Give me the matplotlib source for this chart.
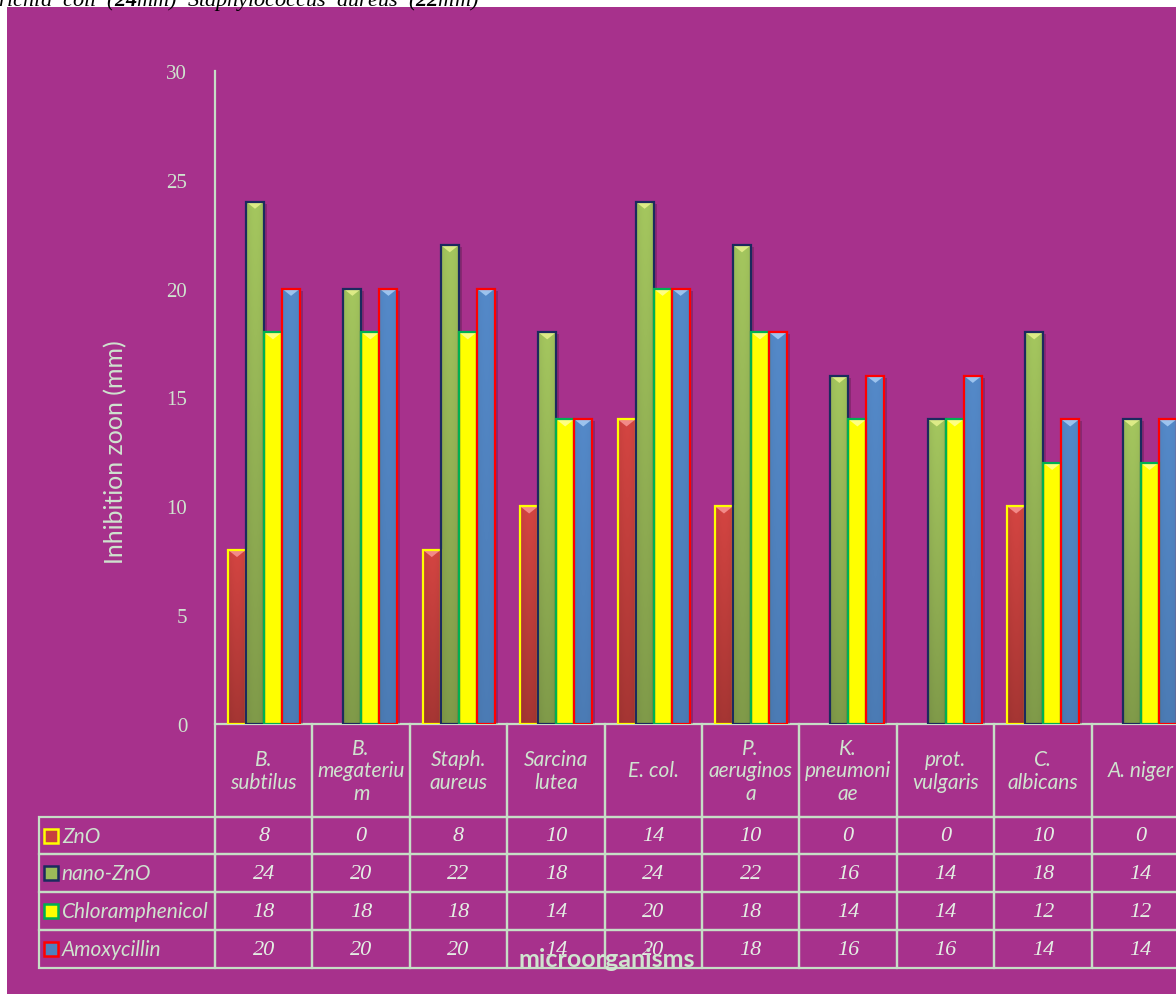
import matplotlib
matplotlib.use("Agg")
import matplotlib.pyplot as plt
import numpy as np
from matplotlib.patches import Rectangle, Polygon
from matplotlib.colors import to_rgb
from matplotlib.table import Table

# data
categories = ["B.\nsubtilus", "B.\nmegateriu\nm", "Staph.\naureus", "Sarcina\nlutea", "E. col.",
              "P.\naeruginos\na", "K.\npneumoni\nae", "prot.\nvulgaris", "C.\nalbicans", "A. niger"]
series = ["ZnO", "nano-ZnO", "Chloramphenicol", "Amoxycillin"]
zno = [8, 0, 8, 10, 14, 10, 0, 0, 10, 0]
nano_zno = [24, 20, 22, 18, 24, 22, 16, 14, 18, 14]
chloramphenicol = [18, 18, 18, 14, 20, 18, 14, 14, 12, 12]
amoxycillin = [20, 20, 20, 14, 20, 18, 16, 16, 14, 14]
yticks = [0, 5, 10, 15, 20, 25, 30]

fills = ["#C8413E", "#9BBB59", "#FFFF00", "#4F81BD"]
edges = ["#FFFF00", "#1B2A5E", "#00B050", "#FF0000"]
tops = ["#F28A88", "#DDEB86", "#FFFF80", "#9CC3EE"]
purple = "#A7318C"
light = "#CFE4CF"
gridc = "#C6DEC6"

W, H = 1176, 995
fig = plt.figure(figsize=(W / 100, H / 100), dpi=100)
fig.patch.set_facecolor("white")
fig.add_artist(Rectangle((7 / W, 0), 1, 1 - 8 / H, transform=fig.transFigure,
                         facecolor=purple, edgecolor="none", zorder=-10))

# cut-off caption line above the panel
plt.rcParams["mathtext.fontset"] = "custom"
plt.rcParams["mathtext.rm"] = "Liberation Serif:italic"
plt.rcParams["mathtext.it"] = "Liberation Serif:italic"
plt.rcParams["mathtext.bf"] = "Liberation Serif:italic:bold"
fig.text(-2 / W, 1 - 6 / H, r"richia  coli  ($\mathbf{24}$mm)  Staphylococcus  aureus  ($\mathbf{22}$mm)",
         family="Liberation Serif", style="italic", fontsize=16, color="black", va="baseline")

ax = fig.add_axes([215 / W, (H - 725) / H, 974 / W, 653 / H])
ax.set_facecolor("none")

values = [zno, nano_zno, chloramphenicol, amoxycillin]
bw = 0.185
x = np.arange(len(categories)) + 0.503
for k, vals in enumerate(values):
    base = np.array(to_rgb(fills[k]))
    for i, v in enumerate(vals):
        if v <= 0:
            continue
        x0 = x[i] + (k - 2) * bw
        x1 = x0 + bw
        # shadow
        ax.add_patch(Rectangle((x0 + 0.03, 0), bw, v - 0.1, facecolor="black",
                               alpha=0.18, edgecolor="none", zorder=1))
        # shaded body
        if k in (0, 1):
            t = np.linspace(1.0, 0.78, 64)[:, None]
            hx = 1 + 0.06 * np.sin(np.linspace(0, np.pi, 16))[None, :]
            img = np.clip(base[None, None, :] * (t * hx)[:, :, None], 0, 1)
        elif k == 3:
            t = np.linspace(1.02, 0.92, 64)[:, None]
            hx = 1 + 0.04 * np.sin(np.linspace(0, np.pi, 16))[None, :]
            img = np.clip(base[None, None, :] * (t * hx)[:, :, None], 0, 1)
        else:
            img = np.ones((2, 2, 3)) * base
        ax.imshow(img, extent=[x0, x1, 0, v], aspect="auto", zorder=2,
                  interpolation="bilinear")
        d = 0.33
        ax.add_patch(Polygon([(x0, v), (x1, v), ((x0 + x1) / 2, v - d)], closed=True,
                             facecolor=tops[k], edgecolor="none", zorder=2.5))
        ax.add_patch(Rectangle((x0, 0), bw, v, fill=False, edgecolor=edges[k],
                               lw=1.6, zorder=3))

ax.set_xlim(0, len(categories))
ax.set_ylim(0, 30)
ax.set_xticks([])
ax.set_yticks(yticks)
ax.set_yticklabels([str(t) for t in yticks], family="Liberation Serif", fontsize=15)
ax.tick_params(axis="y", length=0, pad=20, labelcolor=light)
for s in ["top", "right", "bottom"]:
    ax.spines[s].set_visible(False)
ax.spines["left"].set_color(gridc)
ax.spines["left"].set_linewidth(1.6)

# data table: column 0 holds the series names, row 0 the organisms
tbl = Table(ax, bbox=[-176 / 974, -244 / 653, (176 + 974) / 974, 244 / 653])
for j, cat in enumerate(categories):
    c = tbl.add_cell(0, j + 1, width=97.4, height=93, text=cat, loc="center")
    c.get_text().set(family="Lato", style="italic", fontsize=15, color=light, linespacing=1.15)
for r, (name, vals) in enumerate(zip(series, values)):
    c = tbl.add_cell(r + 1, 0, width=176, height=38, text=name, loc="left")
    c.PAD = 0.13
    c.get_text().set(family="Lato", style="italic", fontsize=15, color=light)
    for j, v in enumerate(vals):
        c = tbl.add_cell(r + 1, j + 1, width=97.4, height=38, text=str(v), loc="center")
        c.get_text().set(family="Liberation Serif", style="italic", fontsize=16, color="#E4EFE4")
for cell in tbl.get_celld().values():
    cell.set_facecolor("none")
    cell.set_edgecolor(gridc)
    cell.set_linewidth(1.6)
tbl.auto_set_font_size(False)
ax.add_table(tbl)

# legend keys in the series-name column
row_mid = [(818 + 855) / 2, (855 + 893) / 2, (893 + 931) / 2, (931 + 969) / 2]
for k in range(4):
    ax.plot([(51 - 215) / 97.4], [(725 - row_mid[k]) / (653 / 30)], marker="s", markersize=10,
            markerfacecolor=fills[k], markeredgecolor=edges[k], markeredgewidth=1.8,
            clip_on=False, zorder=5)

fig.text(116 / W, 1 - 452 / H, "Inhibition zoon (mm)", rotation=90, family="Lato",
         fontsize=18, color=light, ha="center", va="center")
fig.text(607 / W, 1 - 960 / H, "microorganisms", family="Lato", weight="bold",
         fontsize=18, color=light, ha="center", va="center", zorder=10)

fig.savefig("out.png", dpi=100)
